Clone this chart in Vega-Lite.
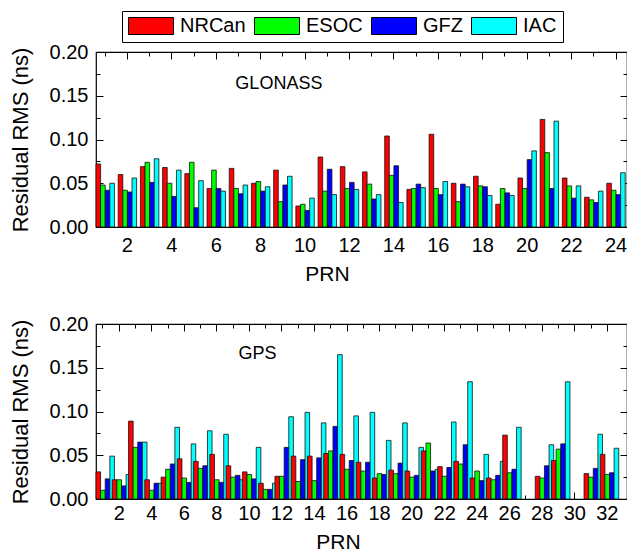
{
  "$schema": "https://vega.github.io/schema/vega-lite/v6.json",
  "padding": {"left": 8, "top": 10, "right": 1, "bottom": 0},
  "background": "white",
  "config": {
    "font": "Liberation Sans",
    "view": {"stroke": "black", "strokeWidth": 1.2},
    "axis": {"domain": false, "grid": false, "ticks": true, "labelFont": "Liberation Sans", "labelFontSize": 20, "labelColor": "black", "titleFont": "Liberation Sans", "titleFontSize": 21, "titleFontWeight": "normal", "titleColor": "black", "tickColor": "black", "tickWidth": 1}
  },
  "datasets": {
    "glo": [
      {"p":1,"a":"NRCan","v":0.072},{"p":1,"a":"ESOC","v":0.048},{"p":1,"a":"GFZ","v":0.042},{"p":1,"a":"IAC","v":0.050},
      {"p":2,"a":"NRCan","v":0.060},{"p":2,"a":"ESOC","v":0.042},{"p":2,"a":"GFZ","v":0.040},{"p":2,"a":"IAC","v":0.056},
      {"p":3,"a":"NRCan","v":0.069},{"p":3,"a":"ESOC","v":0.074},{"p":3,"a":"GFZ","v":0.051},{"p":3,"a":"IAC","v":0.078},
      {"p":4,"a":"NRCan","v":0.068},{"p":4,"a":"ESOC","v":0.050},{"p":4,"a":"GFZ","v":0.035},{"p":4,"a":"IAC","v":0.065},
      {"p":5,"a":"NRCan","v":0.061},{"p":5,"a":"ESOC","v":0.074},{"p":5,"a":"GFZ","v":0.022},{"p":5,"a":"IAC","v":0.053},
      {"p":6,"a":"NRCan","v":0.044},{"p":6,"a":"ESOC","v":0.065},{"p":6,"a":"GFZ","v":0.044},{"p":6,"a":"IAC","v":0.041},
      {"p":7,"a":"NRCan","v":0.067},{"p":7,"a":"ESOC","v":0.044},{"p":7,"a":"GFZ","v":0.038},{"p":7,"a":"IAC","v":0.048},
      {"p":8,"a":"NRCan","v":0.050},{"p":8,"a":"ESOC","v":0.052},{"p":8,"a":"GFZ","v":0.041},{"p":8,"a":"IAC","v":0.046},
      {"p":9,"a":"NRCan","v":0.065},{"p":9,"a":"ESOC","v":0.029},{"p":9,"a":"GFZ","v":0.048},{"p":9,"a":"IAC","v":0.058},
      {"p":10,"a":"NRCan","v":0.024},{"p":10,"a":"ESOC","v":0.026},{"p":10,"a":"GFZ","v":0.019},{"p":10,"a":"IAC","v":0.033},
      {"p":11,"a":"NRCan","v":0.080},{"p":11,"a":"ESOC","v":0.041},{"p":11,"a":"GFZ","v":0.066},{"p":11,"a":"IAC","v":0.037},
      {"p":12,"a":"NRCan","v":0.069},{"p":12,"a":"ESOC","v":0.044},{"p":12,"a":"GFZ","v":0.051},{"p":12,"a":"IAC","v":0.043},
      {"p":13,"a":"NRCan","v":0.063},{"p":13,"a":"ESOC","v":0.049},{"p":13,"a":"GFZ","v":0.032},{"p":13,"a":"IAC","v":0.037},
      {"p":14,"a":"NRCan","v":0.104},{"p":14,"a":"ESOC","v":0.059},{"p":14,"a":"GFZ","v":0.070},{"p":14,"a":"IAC","v":0.028},
      {"p":15,"a":"NRCan","v":0.043},{"p":15,"a":"ESOC","v":0.044},{"p":15,"a":"GFZ","v":0.049},{"p":15,"a":"IAC","v":0.045},
      {"p":16,"a":"NRCan","v":0.106},{"p":16,"a":"ESOC","v":0.044},{"p":16,"a":"GFZ","v":0.037},{"p":16,"a":"IAC","v":0.052},
      {"p":17,"a":"NRCan","v":0.050},{"p":17,"a":"ESOC","v":0.029},{"p":17,"a":"GFZ","v":0.049},{"p":17,"a":"IAC","v":0.046},
      {"p":18,"a":"NRCan","v":0.058},{"p":18,"a":"ESOC","v":0.047},{"p":18,"a":"GFZ","v":0.046},{"p":18,"a":"IAC","v":0.036},
      {"p":19,"a":"NRCan","v":0.026},{"p":19,"a":"ESOC","v":0.044},{"p":19,"a":"GFZ","v":0.039},{"p":19,"a":"IAC","v":0.036},
      {"p":20,"a":"NRCan","v":0.056},{"p":20,"a":"ESOC","v":0.044},{"p":20,"a":"GFZ","v":0.077},{"p":20,"a":"IAC","v":0.087},
      {"p":21,"a":"NRCan","v":0.123},{"p":21,"a":"ESOC","v":0.085},{"p":21,"a":"GFZ","v":0.044},{"p":21,"a":"IAC","v":0.121},
      {"p":22,"a":"NRCan","v":0.056},{"p":22,"a":"ESOC","v":0.047},{"p":22,"a":"GFZ","v":0.033},{"p":22,"a":"IAC","v":0.047},
      {"p":23,"a":"NRCan","v":0.034},{"p":23,"a":"ESOC","v":0.031},{"p":23,"a":"GFZ","v":0.028},{"p":23,"a":"IAC","v":0.041},
      {"p":24,"a":"NRCan","v":0.050},{"p":24,"a":"ESOC","v":0.042},{"p":24,"a":"GFZ","v":0.037},{"p":24,"a":"IAC","v":0.062}
    ],
    "gps": [
      {"p":1,"a":"NRCan","v":0.031},{"p":1,"a":"ESOC","v":0.010},{"p":1,"a":"GFZ","v":0.023},{"p":1,"a":"IAC","v":0.049},
      {"p":2,"a":"NRCan","v":0.022},{"p":2,"a":"ESOC","v":0.022},{"p":2,"a":"GFZ","v":0.015},{"p":2,"a":"IAC","v":0.028},
      {"p":3,"a":"NRCan","v":0.089},{"p":3,"a":"ESOC","v":0.059},{"p":3,"a":"GFZ","v":0.065},{"p":3,"a":"IAC","v":0.065},
      {"p":4,"a":"NRCan","v":0.022},{"p":4,"a":"ESOC","v":0.010},{"p":4,"a":"GFZ","v":0.018},{"p":4,"a":"IAC","v":0.018},
      {"p":5,"a":"NRCan","v":0.025},{"p":5,"a":"ESOC","v":0.034},{"p":5,"a":"GFZ","v":0.040},{"p":5,"a":"IAC","v":0.082},
      {"p":6,"a":"NRCan","v":0.046},{"p":6,"a":"ESOC","v":0.024},{"p":6,"a":"GFZ","v":0.019},{"p":6,"a":"IAC","v":0.063},
      {"p":7,"a":"NRCan","v":0.043},{"p":7,"a":"ESOC","v":0.035},{"p":7,"a":"GFZ","v":0.038},{"p":7,"a":"IAC","v":0.078},
      {"p":8,"a":"NRCan","v":0.051},{"p":8,"a":"ESOC","v":0.022},{"p":8,"a":"GFZ","v":0.019},{"p":8,"a":"IAC","v":0.074},
      {"p":9,"a":"NRCan","v":0.038},{"p":9,"a":"ESOC","v":0.025},{"p":9,"a":"GFZ","v":0.027},{"p":9,"a":"IAC","v":0.022},
      {"p":10,"a":"NRCan","v":0.031},{"p":10,"a":"ESOC","v":0.028},{"p":10,"a":"GFZ","v":0.023},{"p":10,"a":"IAC","v":0.059},
      {"p":11,"a":"NRCan","v":0.018},{"p":11,"a":"ESOC","v":0.011},{"p":11,"a":"GFZ","v":0.011},{"p":11,"a":"IAC","v":0.018},
      {"p":12,"a":"NRCan","v":0.026},{"p":12,"a":"ESOC","v":0.026},{"p":12,"a":"GFZ","v":0.059},{"p":12,"a":"IAC","v":0.094},
      {"p":13,"a":"NRCan","v":0.049},{"p":13,"a":"ESOC","v":0.020},{"p":13,"a":"GFZ","v":0.045},{"p":13,"a":"IAC","v":0.099},
      {"p":14,"a":"NRCan","v":0.049},{"p":14,"a":"ESOC","v":0.021},{"p":14,"a":"GFZ","v":0.047},{"p":14,"a":"IAC","v":0.087},
      {"p":15,"a":"NRCan","v":0.052},{"p":15,"a":"ESOC","v":0.055},{"p":15,"a":"GFZ","v":0.083},{"p":15,"a":"IAC","v":0.165},
      {"p":16,"a":"NRCan","v":0.051},{"p":16,"a":"ESOC","v":0.034},{"p":16,"a":"GFZ","v":0.044},{"p":16,"a":"IAC","v":0.095},
      {"p":17,"a":"NRCan","v":0.042},{"p":17,"a":"ESOC","v":0.032},{"p":17,"a":"GFZ","v":0.042},{"p":17,"a":"IAC","v":0.099},
      {"p":18,"a":"NRCan","v":0.024},{"p":18,"a":"ESOC","v":0.029},{"p":18,"a":"GFZ","v":0.028},{"p":18,"a":"IAC","v":0.067},
      {"p":19,"a":"NRCan","v":0.033},{"p":19,"a":"ESOC","v":0.029},{"p":19,"a":"GFZ","v":0.041},{"p":19,"a":"IAC","v":0.087},
      {"p":20,"a":"NRCan","v":0.032},{"p":20,"a":"ESOC","v":0.025},{"p":20,"a":"GFZ","v":0.027},{"p":20,"a":"IAC","v":0.059},
      {"p":21,"a":"NRCan","v":0.055},{"p":21,"a":"ESOC","v":0.064},{"p":21,"a":"GFZ","v":0.032},{"p":21,"a":"IAC","v":0.034},
      {"p":22,"a":"NRCan","v":0.037},{"p":22,"a":"ESOC","v":0.026},{"p":22,"a":"GFZ","v":0.036},{"p":22,"a":"IAC","v":0.088},
      {"p":23,"a":"NRCan","v":0.043},{"p":23,"a":"ESOC","v":0.040},{"p":23,"a":"GFZ","v":0.062},{"p":23,"a":"IAC","v":0.134},
      {"p":24,"a":"NRCan","v":0.024},{"p":24,"a":"ESOC","v":0.032},{"p":24,"a":"GFZ","v":0.021},{"p":24,"a":"IAC","v":0.051},
      {"p":25,"a":"NRCan","v":0.024},{"p":25,"a":"ESOC","v":0.022},{"p":25,"a":"GFZ","v":0.027},{"p":25,"a":"IAC","v":0.043},
      {"p":26,"a":"NRCan","v":0.073},{"p":26,"a":"ESOC","v":0.030},{"p":26,"a":"GFZ","v":0.034},{"p":26,"a":"IAC","v":0.082},
      {"p":28,"a":"NRCan","v":0.026},{"p":28,"a":"ESOC","v":0.024},{"p":28,"a":"GFZ","v":0.038},{"p":28,"a":"IAC","v":0.062},
      {"p":29,"a":"NRCan","v":0.044},{"p":29,"a":"ESOC","v":0.057},{"p":29,"a":"GFZ","v":0.063},{"p":29,"a":"IAC","v":0.134},
      {"p":31,"a":"NRCan","v":0.029},{"p":31,"a":"ESOC","v":0.025},{"p":31,"a":"GFZ","v":0.035},{"p":31,"a":"IAC","v":0.074},
      {"p":32,"a":"NRCan","v":0.051},{"p":32,"a":"ESOC","v":0.028},{"p":32,"a":"GFZ","v":0.030},{"p":32,"a":"IAC","v":0.058}
    ],
    "glolabel": [{"p": 9, "v": 0.164, "t": "GLONASS"}],
    "gpslabel": [{"p": 10, "v": 0.166, "t": "GPS"}]
  },
  "spacing": 28,
  "resolve": {"scale": {"x": "independent", "color": "shared"}, "legend": {"color": "shared"}},
  "vconcat": [
    {
      "width": 531, "height": 175,
      "layer": [
        {
          "data": {"name": "glo"},
          "mark": {"type": "bar", "stroke": "#111", "strokeWidth": 0.8},
          "encoding": {
            "x": {"field": "p", "type": "ordinal",
              "scale": {"domain": [1,2,3,4,5,6,7,8,9,10,11,12,13,14,15,16,17,18,19,20,21,22,23,24], "paddingInner": 0.17, "paddingOuter": 0.04, "align": 0, "round": false},
              "axis": {"orient": "bottom", "title": "PRN", "titleX": 231, "labelAngle": 0, "labelPadding": 15, "titlePadding": 5,
                "labelExpr": "datum.value % 2 == 0 ? datum.label : ''",
                "tickSize": {"condition": {"test": "datum.value % 2 == 0", "value": -7}, "value": -4}}},
            "xOffset": {"field": "a", "type": "nominal", "scale": {"domain": ["NRCan","ESOC","GFZ","IAC"], "paddingInner": 0, "paddingOuter": 0}},
            "y": {"field": "v", "type": "quantitative",
              "scale": {"domain": [0, 0.2], "nice": false},
              "axis": {"orient": "left", "title": "Residual RMS (ns)", "titleFontSize": 22, "values": [0,0.025,0.05,0.075,0.1,0.125,0.15,0.175,0.2], "format": ".2f", "labelPadding": 15, "titlePadding": 17,
                "labelExpr": "round(datum.value*1000) % 50 == 0 ? datum.label : ''",
                "tickSize": {"condition": {"test": "round(datum.value*1000) % 50 == 0", "value": -7}, "value": -4}}},
            "color": {"field": "a", "type": "nominal",
              "scale": {"domain": ["NRCan","ESOC","GFZ","IAC"], "range": ["#ff0000","#00ff00","#0000ff","#00ffff"]},
              "legend": {"orient": "none", "legendX": 26, "legendY": -41, "direction": "horizontal", "title": null,
                "symbolType": "M-1,-0.378H1V0.378H-1Z", "symbolSize": 2025, "symbolStrokeColor": "black", "symbolStrokeWidth": 1, "symbolOpacity": 1,
                "labelFontSize": 20, "labelFont": "Liberation Sans", "labelColor": "black", "labelOffset": 6, "columnPadding": 8,
                "padding": 6, "strokeColor": "black", "fillColor": "white", "clipHeight": 18, "labelLimit": 200}}
          }
        },
        {
          "data": {"name": "glo"},
          "mark": {"type": "bar", "opacity": 0},
          "encoding": {
            "x": {"field": "p", "type": "ordinal",
              "axis": {"orient": "top", "title": null, "labels": false,
                "tickSize": {"condition": {"test": "datum.value % 2 == 0", "value": -7}, "value": -4}}},
            "xOffset": {"field": "a", "type": "nominal"},
            "y": {"field": "v", "type": "quantitative",
              "axis": {"orient": "right", "title": null, "labels": false, "values": [0,0.025,0.05,0.075,0.1,0.125,0.15,0.175,0.2],
                "tickSize": {"condition": {"test": "round(datum.value*1000) % 50 == 0", "value": -7}, "value": -4}}}
          }
        },
        {
          "data": {"name": "glolabel"},
          "mark": {"type": "text", "fontSize": 18, "font": "Liberation Sans", "color": "black", "dx": -4},
          "encoding": {
            "x": {"field": "p", "type": "ordinal", "axis": null},
            "y": {"field": "v", "type": "quantitative", "axis": null},
            "text": {"field": "t"}
          }
        }
      ]
    },
    {
      "width": 531, "height": 175,
      "layer": [
        {
          "data": {"name": "gps"},
          "mark": {"type": "bar", "stroke": "#111", "strokeWidth": 0.8},
          "encoding": {
            "x": {"field": "p", "type": "ordinal",
              "scale": {"domain": [1,2,3,4,5,6,7,8,9,10,11,12,13,14,15,16,17,18,19,20,21,22,23,24,25,26,27,28,29,30,31,32], "paddingInner": 0.14, "paddingOuter": 0.39, "align": 0, "round": false},
              "axis": {"orient": "bottom", "title": "PRN", "titleX": 242, "labelAngle": 0, "labelPadding": 11, "titlePadding": 5,
                "labelExpr": "datum.value % 2 == 0 ? datum.label : ''",
                "tickSize": {"condition": {"test": "datum.value % 2 == 0", "value": -7}, "value": -4}}},
            "xOffset": {"field": "a", "type": "nominal", "scale": {"domain": ["NRCan","ESOC","GFZ","IAC"], "paddingInner": 0, "paddingOuter": 0}},
            "y": {"field": "v", "type": "quantitative",
              "scale": {"domain": [0, 0.2], "nice": false},
              "axis": {"orient": "left", "title": "Residual RMS (ns)", "titleFontSize": 22, "values": [0,0.025,0.05,0.075,0.1,0.125,0.15,0.175,0.2], "format": ".2f", "labelPadding": 15, "titlePadding": 17,
                "labelExpr": "round(datum.value*1000) % 50 == 0 ? datum.label : ''",
                "tickSize": {"condition": {"test": "round(datum.value*1000) % 50 == 0", "value": -7}, "value": -4}}},
            "color": {"field": "a", "type": "nominal",
              "scale": {"domain": ["NRCan","ESOC","GFZ","IAC"], "range": ["#ff0000","#00ff00","#0000ff","#00ffff"]},
              "legend": {"orient": "none", "legendX": 26, "legendY": -41, "direction": "horizontal", "title": null,
                "symbolType": "M-1,-0.378H1V0.378H-1Z", "symbolSize": 2025, "symbolStrokeColor": "black", "symbolStrokeWidth": 1, "symbolOpacity": 1,
                "labelFontSize": 20, "labelFont": "Liberation Sans", "labelColor": "black", "labelOffset": 6, "columnPadding": 8,
                "padding": 6, "strokeColor": "black", "fillColor": "white", "clipHeight": 18, "labelLimit": 200}}
          }
        },
        {
          "data": {"name": "gps"},
          "mark": {"type": "bar", "opacity": 0},
          "encoding": {
            "x": {"field": "p", "type": "ordinal",
              "axis": {"orient": "top", "title": null, "labels": false,
                "tickSize": {"condition": {"test": "datum.value % 2 == 0", "value": -7}, "value": -4}}},
            "xOffset": {"field": "a", "type": "nominal"},
            "y": {"field": "v", "type": "quantitative",
              "axis": {"orient": "right", "title": null, "labels": false, "values": [0,0.025,0.05,0.075,0.1,0.125,0.15,0.175,0.2],
                "tickSize": {"condition": {"test": "round(datum.value*1000) % 50 == 0", "value": -7}, "value": -4}}}
          }
        },
        {
          "data": {"name": "gpslabel"},
          "mark": {"type": "text", "fontSize": 18, "font": "Liberation Sans", "color": "black", "dx": 8},
          "encoding": {
            "x": {"field": "p", "type": "ordinal", "axis": null},
            "y": {"field": "v", "type": "quantitative", "axis": null},
            "text": {"field": "t"}
          }
        }
      ]
    }
  ]
}
